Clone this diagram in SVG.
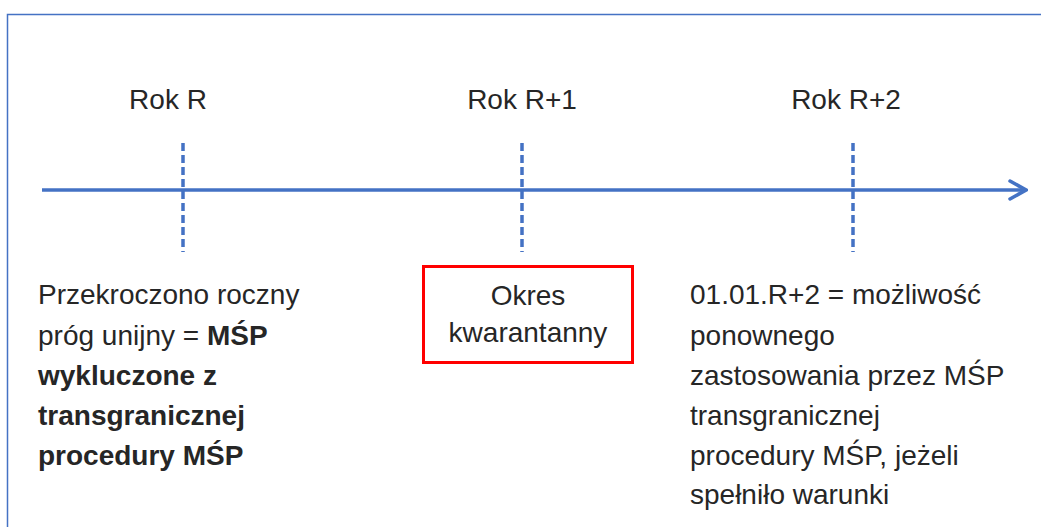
<svg xmlns="http://www.w3.org/2000/svg" width="1041" height="527" viewBox="0 0 1041 527">
<style>
text{font-family:"Liberation Sans",Arial,sans-serif;font-size:28px;fill:#262626}
.b{font-weight:bold}
.c{text-anchor:middle}
.tick{stroke:#4472C4;stroke-width:3.5;stroke-dasharray:8,4;fill:none}
.axis{stroke:#4472C4;stroke-width:3.5;fill:none}
</style>
<defs>
<marker id="arr" viewBox="0 0 20 22" refX="18" refY="11" markerWidth="20" markerHeight="22" markerUnits="userSpaceOnUse" orient="auto">
<path d="M2,2 L18,11 L2,20" fill="none" stroke="#4472C4" stroke-width="3.5" stroke-linejoin="miter" stroke-linecap="round"/>
</marker>
</defs>
<rect x="7.5" y="14.5" width="1100" height="600" fill="none" stroke="#4472C4" stroke-width="1.5"/>
<g id="connectors">
<line class="axis" x1="42" y1="190" x2="1026" y2="190" marker-end="url(#arr)"/>
<line class="tick" x1="183" y1="143" x2="183" y2="252"/>
<line class="tick" x1="522" y1="143" x2="522" y2="252"/>
<line class="tick" x1="853" y1="143" x2="853" y2="252"/>
</g>
<g id="yearR"><text class="c" x="168" y="109">Rok R</text></g>
<g id="yearR1"><text class="c" x="522" y="109">Rok R+1</text></g>
<g id="yearR2"><text class="c" x="846" y="109">Rok R+2</text></g>
<g id="exceeded">
<text x="38" y="304">Przekroczono roczny</text>
<text x="38" y="345">próg unijny = <tspan class="b">MŚP</tspan></text>
<text class="b" x="38" y="385">wykluczone z</text>
<text class="b" x="38" y="425">transgranicznej</text>
<text class="b" x="38" y="465">procedury MŚP</text>
</g>
<g id="quarantine">
<rect x="423.5" y="266.5" width="209" height="96" fill="#fff" stroke="#FF0000" stroke-width="3"/>
<text class="c" x="528" y="305">Okres</text>
<text class="c" x="528" y="342">kwarantanny</text>
</g>
<g id="reapply">
<text x="690" y="304">01.01.R+2 = możliwość</text>
<text x="690" y="345">ponownego</text>
<text x="690" y="385">zastosowania przez MŚP</text>
<text x="690" y="425">transgranicznej</text>
<text x="690" y="465">procedury MŚP, jeżeli</text>
<text x="690" y="504">spełniło warunki</text>
</g>
</svg>
